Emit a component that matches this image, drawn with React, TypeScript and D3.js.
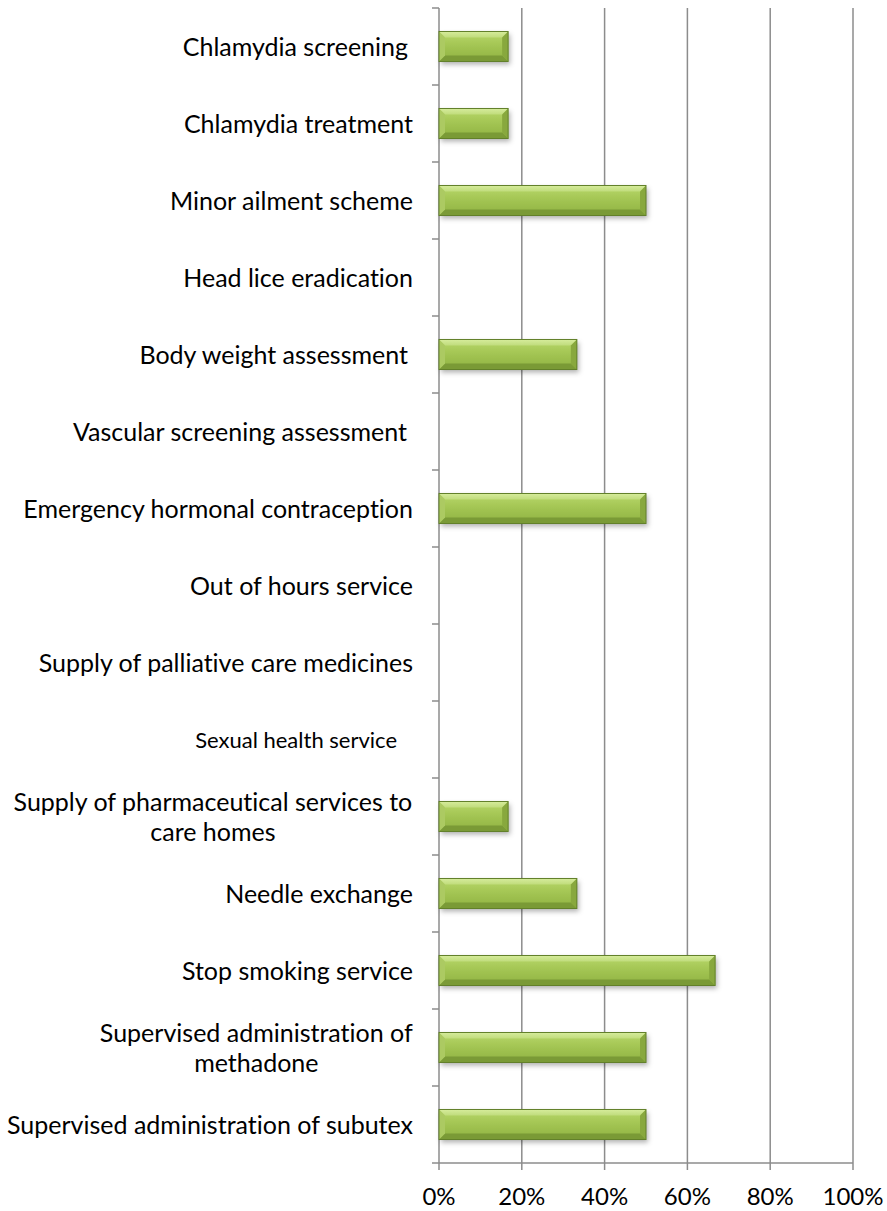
import React from "react";
import * as d3 from "d3";

const categories: string[][] = [
  ["Chlamydia screening"],
  ["Chlamydia treatment"],
  ["Minor ailment scheme"],
  ["Head lice eradication"],
  ["Body weight assessment"],
  ["Vascular screening assessment"],
  ["Emergency hormonal contraception"],
  ["Out of hours service"],
  ["Supply of palliative care medicines"],
  ["Sexual health service"],
  ["Supply of pharmaceutical services to", "care homes"],
  ["Needle exchange"],
  ["Stop smoking service"],
  ["Supervised administration of", "methadone"],
  ["Supervised administration of subutex"],
];
const labelRight: number[] = [408, 413, 413, 413, 408, 407, 413, 413, 413, 397, 413, 413, 413, 413, 413];
const values: number[] = [0.167, 0.167, 0.5, 0, 0.333, 0, 0.5, 0, 0, 0, 0.167, 0.333, 0.667, 0.5, 0.5];
const ticks: number[] = [0, 0.2, 0.4, 0.6, 0.8, 1.0];

const W = 887, H = 1211;
const X0 = 439, X1 = 853, Y0 = 8, Y1 = 1163;
const FONT = "Lato, 'Open Sans', sans-serif";

let ctx: CanvasRenderingContext2D | null = null;
function measure(s: string, fs: number): number {
  if (!ctx) ctx = document.createElement("canvas").getContext("2d");
  if (!ctx) return s.length * fs * 0.5;
  ctx.font = `${fs}px Lato`;
  return ctx.measureText(s).width;
}

export default function App() {
  const x = d3.scaleLinear().domain([0, 1]).range([X0, X1]);
  const y = d3.scaleBand<number>().domain(d3.range(categories.length)).range([Y0, Y1]).paddingInner(0.61).paddingOuter(0.305);
  const band = d3.scaleBand<number>().domain(d3.range(categories.length)).range([Y0, Y1]);
  const bh = y.bandwidth();
  const bev = 6;

  return (
    <svg width={W} height={H} style={{ position: "absolute", left: 0, top: 0, background: "#fff", fontVariantLigatures: "none" }} fontFamily={FONT}>
      <defs>
        <linearGradient id="body" x1="0" y1="0" x2="0" y2="1">
          <stop offset="0" stopColor="#b8d86a" />
          <stop offset="0.5" stopColor="#a2c452" />
          <stop offset="1" stopColor="#8fb243" />
        </linearGradient>
        <linearGradient id="topb" x1="0" y1="0" x2="0" y2="1">
          <stop offset="0" stopColor="#d6ec9c" />
          <stop offset="1" stopColor="#c0dc7c" />
        </linearGradient>
        <filter id="sh" x="-10%" y="-30%" width="130%" height="180%">
          <feDropShadow dx="2" dy="3" stdDeviation="2.5" floodColor="#000" floodOpacity="0.3" />
        </filter>
      </defs>
      {ticks.slice(1).map((t) => (
        <line key={t} x1={x(t)} x2={x(t)} y1={Y0} y2={Y1} stroke="#8c8c8c" strokeWidth={1.5} />
      ))}
      <line x1={X0} x2={X0} y1={Y0} y2={Y1} stroke="#8c8c8c" strokeWidth={1.5} />
      <line x1={X0} x2={X1} y1={Y1} y2={Y1} stroke="#8c8c8c" strokeWidth={1.5} />
      {d3.range(categories.length + 1).map((i) => {
        const yy = i < categories.length ? band(i)! : Y1;
        return <line key={"yt" + i} x1={X0 - 7} x2={X0} y1={yy} y2={yy} stroke="#8c8c8c" strokeWidth={1.5} />;
      })}
      {ticks.map((t) => (
        <line key={"xt" + t} x1={x(t)} x2={x(t)} y1={Y1} y2={Y1 + 7} stroke="#8c8c8c" strokeWidth={1.5} />
      ))}
      {ticks.map((t) => (
        <text key={"xl" + t} x={x(t)} y={Y1 + 42} textAnchor="middle" fontSize={24} fill="#000">
          {d3.format(".0%")(t)}
        </text>
      ))}
      {values.map((v, i) => {
        if (v <= 0) return null;
        const x0 = x(0), x1 = x(v), y0 = y(i)!, y1 = y0 + bh;
        return (
          <g key={"b" + i}>
            <rect x={x0} y={y0} width={x1 - x0} height={bh} fill="url(#body)" filter="url(#sh)" />
            <polygon points={`${x0},${y0} ${x1},${y0} ${x1 - bev},${y0 + bev} ${x0 + bev},${y0 + bev}`} fill="url(#topb)" />
            <polygon points={`${x0},${y1} ${x1},${y1} ${x1 - bev},${y1 - bev} ${x0 + bev},${y1 - bev}`} fill="#7a9a36" />
            <polygon points={`${x0},${y0} ${x0 + bev},${y0 + bev} ${x0 + bev},${y1 - bev} ${x0},${y1}`} fill="#acca62" />
            <polygon points={`${x1},${y0} ${x1 - bev},${y0 + bev} ${x1 - bev},${y1 - bev} ${x1},${y1}`} fill="#88a83e" />
            <rect x={x0} y={y0} width={x1 - x0} height={bh} fill="none" stroke="#62802a" strokeWidth={1} />
          </g>
        );
      })}
      {categories.map((lines, i) => {
        const cy = band(i)! + band.bandwidth() / 2;
        const fs = i === 9 ? 22 : 25;
        const lh = 30;
        const right = labelRight[i];
        const maxW = Math.max(...lines.map((l) => measure(l, fs)));
        const multi = lines.length > 1;
        return (
          <text key={"c" + i} fontSize={fs} fill="#000" textAnchor={multi ? "middle" : "end"}>
            {lines.map((l, j) => (
              <tspan key={j} x={multi ? right - maxW / 2 : right} y={cy + (j - (lines.length - 1) / 2) * lh + fs * 0.37}>
                {l}
              </tspan>
            ))}
          </text>
        );
      })}
    </svg>
  );
}
